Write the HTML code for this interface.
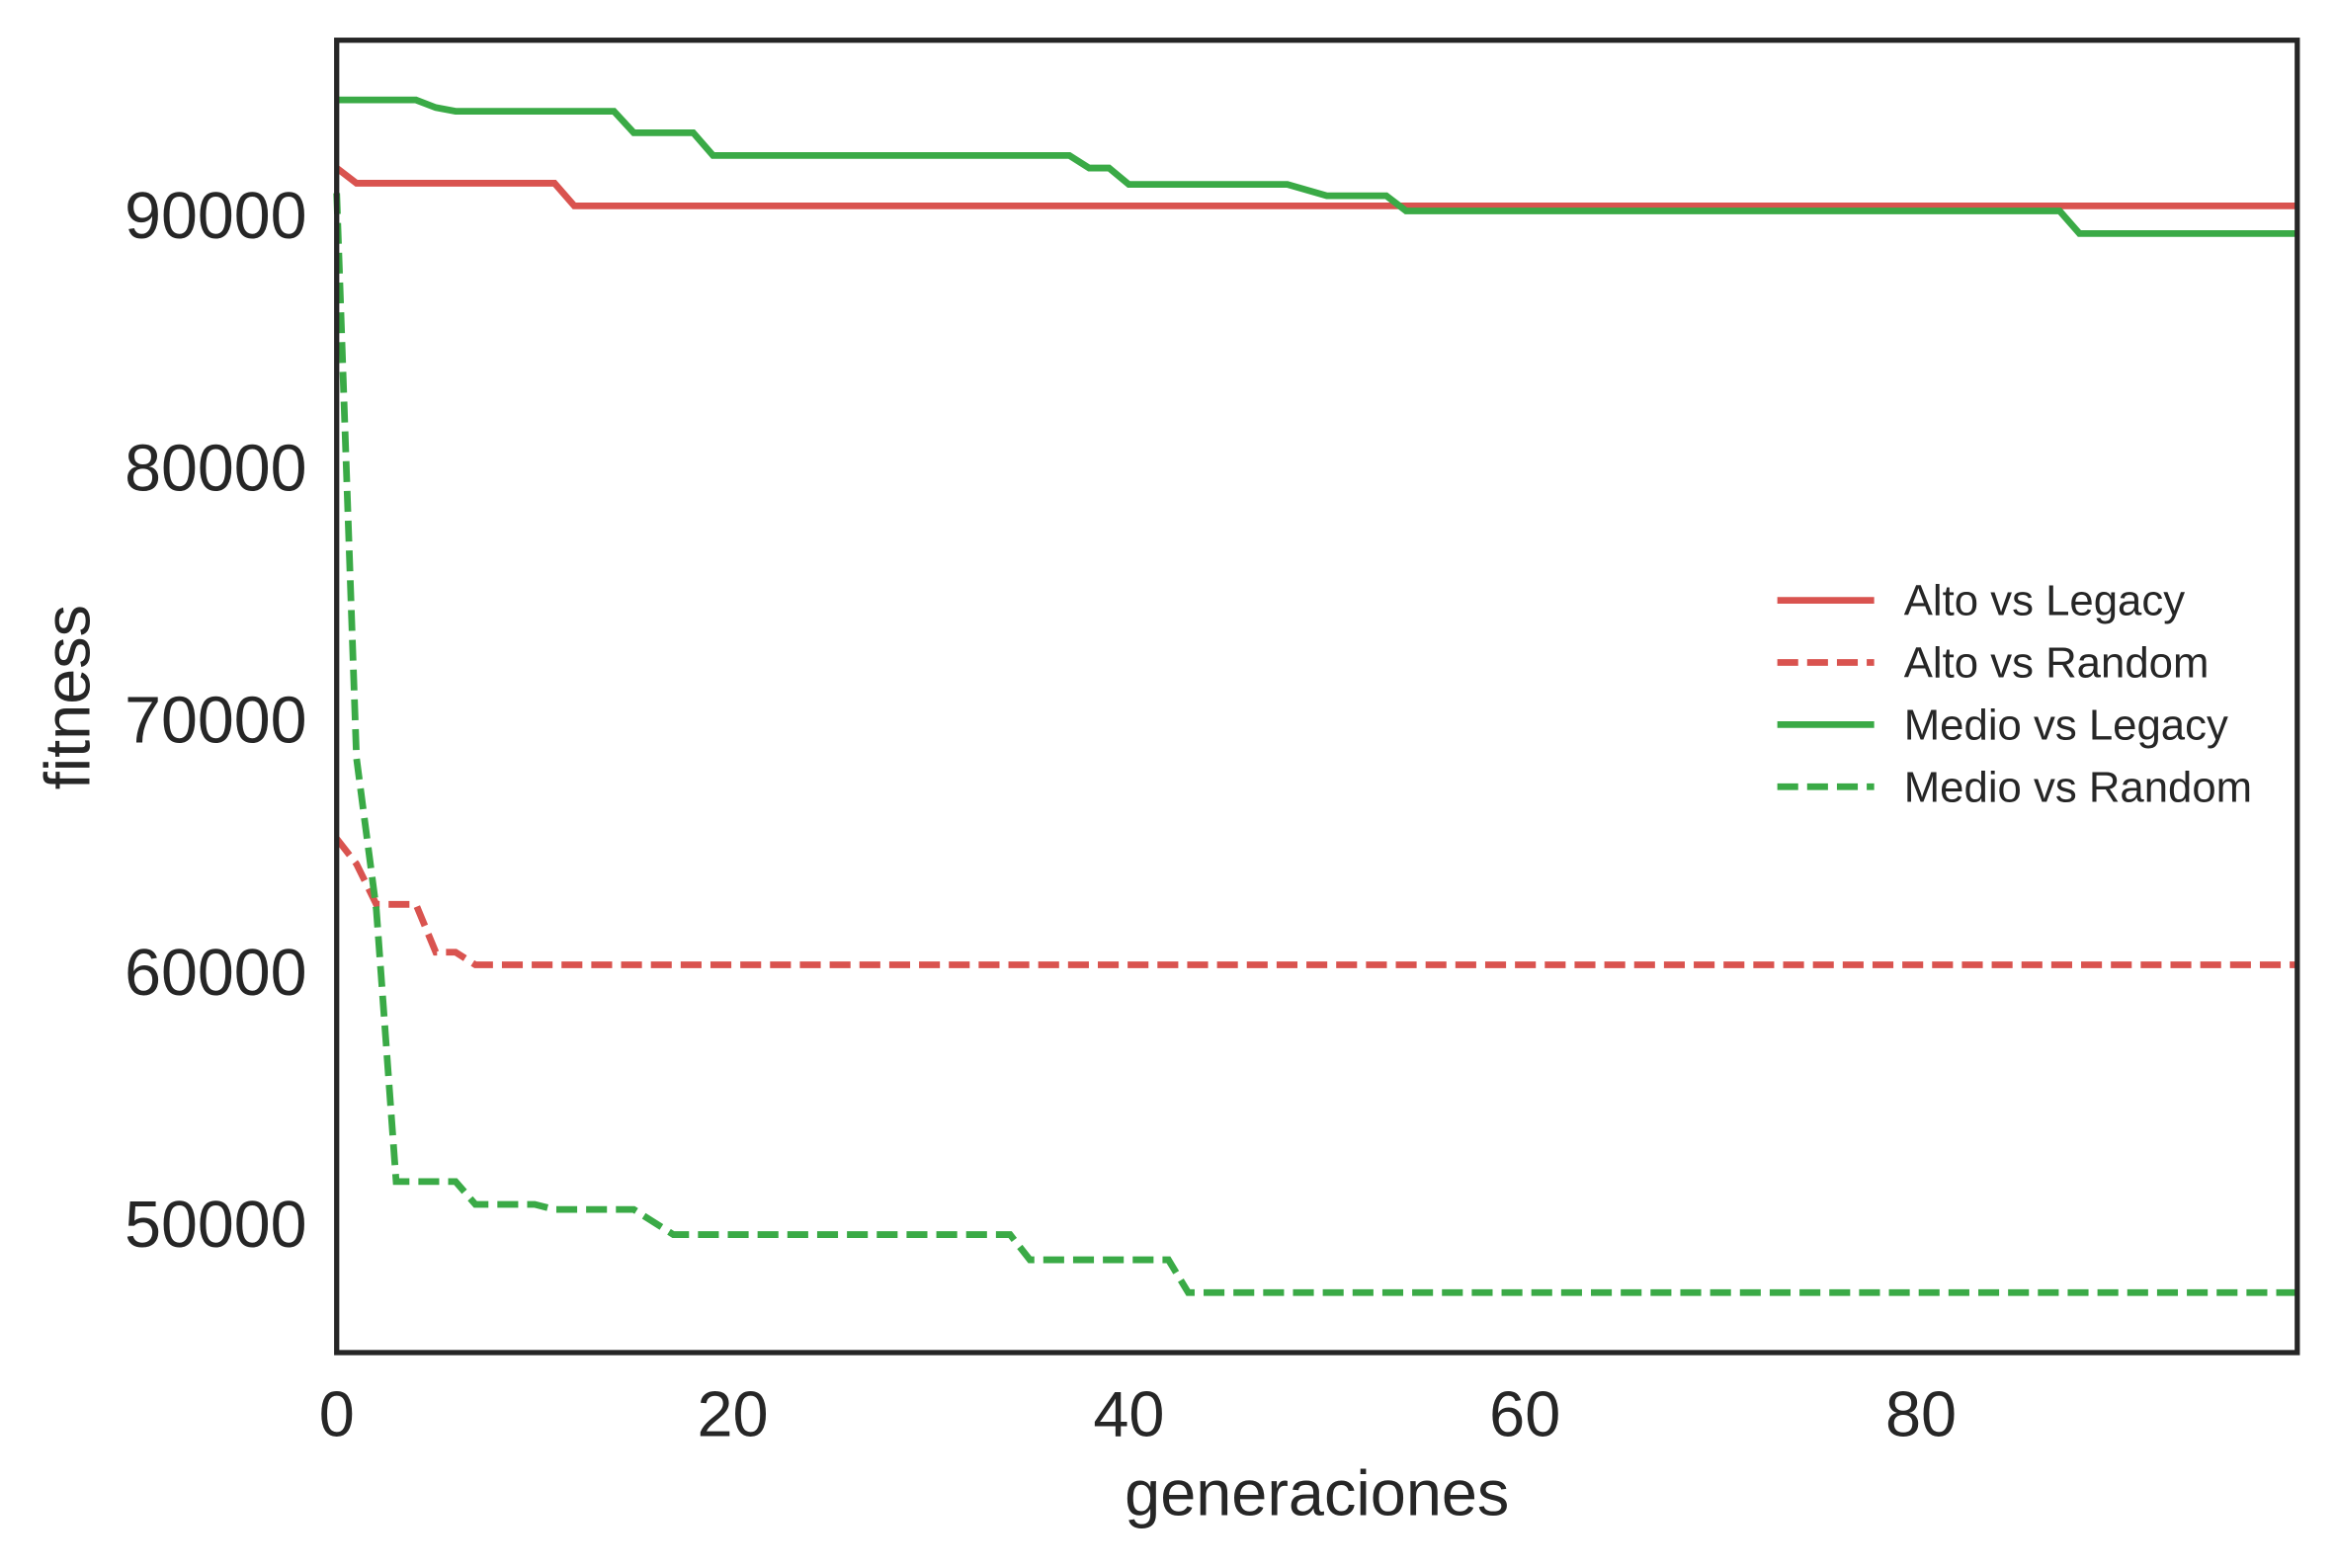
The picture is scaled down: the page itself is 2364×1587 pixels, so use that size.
<!DOCTYPE html>
<html><head><meta charset="utf-8"><style>
html,body{margin:0;padding:0;background:#fff;}
svg{display:block;font-family:"Liberation Sans",Arial,sans-serif;}
</style></head><body>
<svg id="chart" width="2364" height="1587" viewBox="0 0 1568 1052.6" preserveAspectRatio="none" xmlns="http://www.w3.org/2000/svg">
<rect width="1568" height="1053" fill="#fff"/>
<g id="marks"></g>
<rect x="226" y="27" width="1316" height="881" fill="none" stroke="#262626" stroke-width="3.5"/>
<g id="ticks"></g>
<text x="884" y="1017" font-size="43" fill="#262626" text-anchor="middle">generaciones</text>
<text transform="translate(60,468) rotate(-90)" font-size="43" fill="#262626" text-anchor="middle">fitness</text>
<g id="legend"></g>
</svg>
<script>
const xTicks=[0,20,40,60,80];
const yTicks=[50000,60000,70000,80000,90000];
const seriesNames=["Alto vs Legacy","Alto vs Random","Medio vs Legacy","Medio vs Random"];
const seriesColors=["#d9534f","#d9534f","#3aaa46","#3aaa46"];
const seriesDashed=[false,true,false,true];
const altoLegacy=[[0,91900],[1,91300],[11,91300],[12,90400],[99,90400]];
const altoRandom=[[0,65300],[1,64300],[2,62700],[4,62700],[5,60800],[6,60800],[7,60300],[99,60300]];
const medioLegacy=[[0,94600],[4,94600],[5,94300],[6,94150],[14,94150],[15,93300],[18,93300],[19,92400],[37,92400],[38,91900],[39,91900],[40,91250],[48,91250],[50,90800],[53,90800],[54,90200],[87,90200],[88,89300],[99,89300]];
const medioRandom=[[0,90900],[1,68500],[2,62500],[3,51700],[6,51700],[7,50800],[10,50800],[11,50600],[15,50600],[17,49600],[34,49600],[35,48600],[42,48600],[43,47300],[99,47300]];
const allSeries=[altoLegacy,altoRandom,medioLegacy,medioRandom];
const NS="http://www.w3.org/2000/svg";
const X0=226,X1=1542,Y0=908,Y1=27,XMIN=0,XMAX=99,YMIN=44920,YMAX=96970;
function sx(v){return X0+(v-XMIN)/(XMAX-XMIN)*(X1-X0);}
function sy(v){return Y0-(v-YMIN)/(YMAX-YMIN)*(Y0-Y1);}
const marks=document.getElementById('marks');
allSeries.forEach((s,i)=>{
 const p=document.createElementNS(NS,'path');
 p.setAttribute('d',s.map((d,j)=>(j?'L':'M')+sx(d[0]).toFixed(1)+','+sy(d[1]).toFixed(1)).join(''));
 p.setAttribute('fill','none');p.setAttribute('stroke',seriesColors[i]);p.setAttribute('stroke-width','4.5');
 if(seriesDashed[i])p.setAttribute('stroke-dasharray','14,6');
 
 
 marks.appendChild(p);
});
const ticks=document.getElementById('ticks');
xTicks.forEach(v=>{
 const t=document.createElementNS(NS,'text');
 t.setAttribute('x',sx(v));t.setAttribute('y',964);t.setAttribute('font-size','43');t.setAttribute('fill','#262626');t.setAttribute('text-anchor','middle');
 t.textContent=v;
 
 
 ticks.appendChild(t);
});
yTicks.forEach(v=>{
 const t=document.createElementNS(NS,'text');
 t.setAttribute('x',206);t.setAttribute('y',sy(v)+15);t.setAttribute('font-size','44');t.setAttribute('fill','#262626');t.setAttribute('text-anchor','end');
 t.textContent=v;
 
 
 ticks.appendChild(t);
});
const lg=document.getElementById('legend');
seriesNames.forEach((n,i)=>{
 const y=403+i*41.7;
 const l=document.createElementNS(NS,'line');
 l.setAttribute('x1',1193);l.setAttribute('x2',1258);l.setAttribute('y1',y);l.setAttribute('y2',y);
 l.setAttribute('stroke',seriesColors[i]);l.setAttribute('stroke-width','4.5');
 if(seriesDashed[i])l.setAttribute('stroke-dasharray','14,6');
 
 
 lg.appendChild(l);
 const t=document.createElementNS(NS,'text');
 t.setAttribute('x',1278);t.setAttribute('y',y+10);t.setAttribute('font-size','29');t.setAttribute('fill','#262626');
 t.textContent=n;
 
 
 lg.appendChild(t);
});
</script>
</body></html>
